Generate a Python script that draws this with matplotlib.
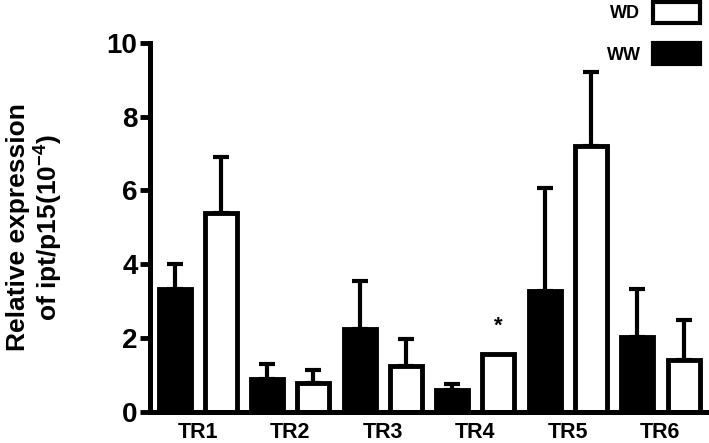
import numpy as np
import matplotlib.pyplot as plt
from matplotlib.patches import Rectangle

plt.rcParams['font.family'] = ['Liberation Sans', 'DejaVu Sans']
plt.rcParams['font.weight'] = 'bold'
plt.rcParams['mathtext.fontset'] = 'custom'
plt.rcParams['mathtext.rm'] = 'Liberation Sans:bold'
plt.rcParams['mathtext.it'] = 'Liberation Sans:bold'
plt.rcParams['mathtext.bf'] = 'Liberation Sans:bold'

groups = ['TR1', 'TR2', 'TR3', 'TR4', 'TR5', 'TR6']
ww = [3.33, 0.89, 2.26, 0.60, 3.28, 2.03]      # black bars
ww_err = [0.67, 0.41, 1.30, 0.16, 2.78, 1.31]
wd = [5.40, 0.78, 1.25, 1.57, 7.21, 1.41]      # white bars
wd_err = [1.50, 0.36, 0.74, 0.0, 2.00, 1.09]
star_group = 'TR4'

fig = plt.figure(figsize=(7.09, 4.43), dpi=100)
ax = fig.add_axes([0.2116, 0.070, 0.7884, 0.8336])

n = len(groups)
x_ww = np.arange(n) * 2
x_wd = x_ww + 1
w = 0.69
lw = 3.5

ax.bar(x_ww, ww, width=w, color='black', edgecolor='black', linewidth=lw, zorder=2)
ax.bar(x_wd, wd, width=w, color='white', edgecolor='black', linewidth=lw, zorder=2)

ww_err = np.array(ww_err)
wd_err = np.array(wd_err)
ax.errorbar(x_ww, ww, yerr=[np.zeros(n), ww_err], fmt='none', ecolor='black',
            elinewidth=3, capsize=6, capthick=3, zorder=1)
m = wd_err > 0
ax.errorbar(x_wd[m], np.array(wd)[m], yerr=[np.zeros(m.sum()), wd_err[m]], fmt='none',
            ecolor='black', elinewidth=3, capsize=6, capthick=3, zorder=1)

si = groups.index(star_group)
ax.text(x_wd[si], 2.17, '*', ha='center', va='baseline', fontsize=16, fontweight='bold')

ax.set_xlim(-0.53, 2 * n - 1 + 0.55)
ax.set_ylim(0, 10)
ax.set_yticks([0, 2, 4, 6, 8, 10])
ax.set_xticks(x_ww + 0.5)
ax.set_xticklabels(groups, fontsize=15.5, fontweight='bold')
ax.tick_params(axis='x', length=0, pad=7.5)
ax.tick_params(axis='y', length=7, width=3.5, labelsize=20, pad=2)
for lab in ax.get_yticklabels():
    lab.set_fontweight('bold')

for s in ['top', 'right']:
    ax.spines[s].set_visible(False)
for s in ['left', 'bottom']:
    ax.spines[s].set_linewidth(3.6)

ax.set_ylabel('Relative expression\nof ipt/p15(10$^{-4}$)', fontsize=19,
              fontweight='bold', linespacing=1.12)
ax.yaxis.set_label_coords(-0.152, 0.5)

# legend
W, H = 709.0, 443.0
fig.patches.append(Rectangle((653 / W, 1 - 23 / H), 47 / W, 21 / H, transform=fig.transFigure,
                             facecolor='white', edgecolor='black', linewidth=3))
fig.patches.append(Rectangle((653 / W, 1 - 64 / H), 47 / W, 21 / H, transform=fig.transFigure,
                             facecolor='black', edgecolor='black', linewidth=3))
fig.text(640 / W, 1 - 13 / H, 'WD', ha='right', va='center', fontsize=13, fontweight='bold')
fig.text(641 / W, 1 - 56 / H, 'WW', ha='right', va='center', fontsize=13, fontweight='bold')

fig.savefig('out.png', dpi=100)
